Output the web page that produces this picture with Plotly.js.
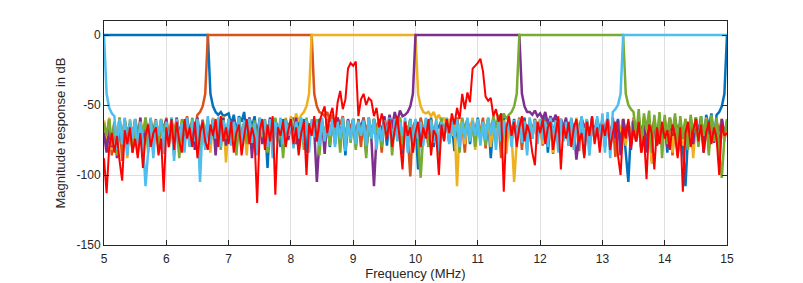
<!DOCTYPE html>
<html>
<head>
<meta charset="utf-8">
<script src="https://cdn.plot.ly/plotly-3.0.1.min.js"></script>
<style>html,body{margin:0;padding:0;background:#fff;}#chart{width:803px;height:283px;}</style>
</head>
<body>
<div id="chart"></div>
<script>
// Frequency grid: samples start at 5 MHz, one sample every 1/24 MHz (241 samples up to 15 MHz)
const freqStartMHz = 5;
const freqStepMHz = 1 / 24;

const xTicks = [5, 6, 7, 8, 9, 10, 11, 12, 13, 14, 15];
const yTicks = [-150, -100, -50, 0];

// Channel 1 (5 - 6.67 MHz), dB
const ch1 = [
0,0,0,0,0,0,0,0,0,0,0,0,
0,0,0,0,0,0,0,0,0,0,0,0,
0,0,0,0,0,0,0,0,0,0,0,0,
0,0,0,0,0,-42,-51,-55,-57,-55,-58,-57,
-56,-64,-57,-70,-58,-62,-55,-72,-59,-66,-58,-75,
-60,-68,-62,-95,-59,-74,-61,-66,-80,-60,-70,-63,
-66,-59,-78,-62,-68,-60,-84,-63,-70,-61,-76,-60,
-64,-72,-60,-80,-62,-67,-59,-74,-63,-86,-61,-69,
-60,-77,-62,-66,-59,-82,-64,-70,-60,-75,-63,-68,
-61,-79,-60,-67,-64,-73,-59,-85,-62,-70,-60,-76,
-63,-96,-60,-71,-62,-68,-59,-80,-64,-66,-61,-74,
-60,-69,-63,-83,-59,-72,-62,-67,-60,-78,-64,-70,
-59,-75,-62,-68,-60,-88,-63,-71,-61,-66,-59,-79,
-62,-70,-60,-74,-64,-67,-59,-81,-62,-69,-60,-73,
-63,-68,-59,-84,-61,-70,-62,-76,-60,-66,-64,-79,
-60,-72,-62,-67,-59,-86,-61,-70,-63,-75,-60,-68,
-62,-80,-59,-71,-63,-69,-60,-77,-62,-84,-105,-68,
-60,-74,-63,-82,-59,-70,-62,-90,-60,-76,-64,-71,
-59,-84,-62,-73,-60,-69,-63,-80,-108,-72,-61,-77,
-60,-70,-58,-78,-57,-66,-56,-74,-57,-55,-51,-42,
0];

// Channel 2 (6.67 - 8.33 MHz)
const ch2 = [
-62,-80,-60,-86,-63,-72,-59,-90,-61,-75,-64,-84,
-60,-70,-62,-88,-59,-74,-63,-68,-60,-82,-61,-72,
-59,-77,-62,-70,-60,-85,-63,-68,-58,-74,-61,-66,
-57,-55,-51,-42,0,0,0,0,0,0,0,0,
0,0,0,0,0,0,0,0,0,0,0,0,
0,0,0,0,0,0,0,0,0,0,0,0,
0,0,0,0,0,0,0,0,0,-42,-51,-55,
-56,-58,-55,-62,-57,-70,-59,-64,-58,-76,-61,-67,
-60,-72,-62,-80,-59,-68,-63,-74,-60,-66,-62,-84,
-59,-70,-61,-76,-63,-68,-60,-82,-62,-72,-101,-66,
-61,-74,-59,-69,-63,-80,-60,-71,-62,-86,-64,-70,
-60,-77,-62,-68,-59,-73,-63,-84,-61,-69,-60,-75,
-62,-70,-59,-81,-63,-67,-60,-74,-61,-88,-62,-71,
-60,-76,-63,-69,-59,-82,-61,-70,-62,-74,-60,-67,
-63,-79,-60,-70,-62,-85,-59,-72,-61,-68,-63,-76,
-60,-71,-62,-83,-59,-69,-61,-74,-63,-70,-60,-80,
-62,-68,-59,-75,-61,-87,-63,-70,-60,-73,-62,-78,
-59,-70,-62,-84,-60,-72,-63,-68,-61,-79,-60,-74,
-62,-69,-59,-86,-61,-71,-63,-76,-60,-70,-62,-82,
-59,-72,-61,-68,-63,-80,-60,-73,-62,-69,-60,-75,
-61];

// Channel 3 (8.33 - 10 MHz)
const ch3 = [
-61,-74,-59,-82,-63,-70,-60,-78,-62,-88,-60,-72,
-63,-80,-59,-71,-62,-76,-60,-84,-61,-69,-63,-78,
-60,-72,-62,-86,-59,-74,-61,-68,-63,-80,-60,-73,
-62,-79,-60,-70,-63,-84,-59,-72,-61,-77,-58,-91,
-60,-74,-62,-80,-59,-71,-63,-86,-60,-72,-62,-78,
-59,-70,-61,-83,-63,-74,-60,-69,-62,-80,-59,-72,
-58,-66,-56,-62,-57,-55,-51,-42,0,0,0,0,
0,0,0,0,0,0,0,0,0,0,0,0,
0,0,0,0,0,0,0,0,0,0,0,0,
0,0,0,0,0,0,0,0,0,0,0,0,
0,-42,-51,-55,-56,-55,-58,-55,-60,-57,-62,-59,
-64,-60,-72,-62,-108,-66,-60,-78,-62,-70,-59,-82,
-61,-72,-63,-68,-60,-80,-62,-74,-59,-70,-61,-85,
-63,-71,-105,-76,-60,-69,-62,-82,-59,-73,-61,-68,
-60,-78,-62,-70,-59,-84,-63,-72,-60,-75,-62,-69,
-61,-80,-59,-73,-63,-68,-60,-86,-62,-71,-60,-77,
-63,-70,-59,-82,-61,-74,-62,-69,-60,-79,-63,-72,
-60,-76,-62,-80,-59,-70,-61,-92,-63,-74,-60,-78,
-62,-71,-59,-84,-61,-73,-63,-79,-60,-70,-62,-88,
-60,-74,-62,-78,-59,-82,-61,-70,-63,-90,-60,-76,
-62];

// Channel 4 (10 - 11.67 MHz)
const ch4 = [
-70,-84,-66,-80,-62,-88,-64,-76,-60,-82,-63,-72,
-61,-78,-59,-86,-62,-70,-60,-80,-63,-74,-61,-68,
-60,-76,-62,-84,-59,-71,-63,-78,-60,-69,-62,-82,
-59,-73,-61,-80,-63,-70,-60,-86,-62,-74,-59,-79,
-62,-70,-60,-83,-61,-76,-63,-72,-59,-88,-62,-71,
-60,-78,-63,-70,-59,-84,-61,-73,-62,-80,-60,-75,
-63,-70,-59,-82,-61,-76,-60,-72,-62,-68,-105,-74,
-61,-85,-60,-72,-62,-78,-59,-70,-63,-82,-60,-73,
-62,-80,-60,-70,-61,-84,-59,-74,-108,-72,-60,-78,
-58,-70,-57,-66,-55,-62,-54,-58,-57,-55,-51,-42,
0,0,0,0,0,0,0,0,0,0,0,0,
0,0,0,0,0,0,0,0,0,0,0,0,
0,0,0,0,0,0,0,0,0,0,0,0,
0,0,0,0,0,-42,-51,-55,-55,-57,-54,-58,
-56,-60,-55,-64,-58,-62,-57,-70,-60,-66,-59,-74,
-61,-68,-89,-72,-60,-66,-62,-78,-59,-70,-61,-75,
-60,-72,-62,-80,-59,-74,-61,-86,-60,-70,-63,-82,
-61,-76,-59,-70,-62,-84,-60,-73,-63,-79,-60,-71,
-62,-80,-60,-72,-59,-86,-61,-74,-63,-70,-60,-78,
-59,-73,-61,-84,-60,-71,-62,-77,-63,-82,-60,-70,
-64];

// Channel 5 (11.67 - 13.33 MHz)
const ch5 = [
-63,-72,-60,-79,-62,-86,-59,-74,-61,-70,-63,-82,
-60,-76,-62,-70,-59,-84,-61,-72,-63,-78,-60,-69,
-62,-80,-59,-73,-61,-88,-60,-71,-63,-76,-59,-70,
-61,-84,-62,-72,-60,-78,-63,-70,-59,-82,-61,-74,
-60,-70,-63,-86,-59,-74,-62,-78,-60,-72,-61,-80,
-62,-73,-60,-84,-61,-70,-59,-76,-63,-88,-60,-72,
-61,-78,-62,-70,-60,-82,-59,-74,-63,-71,-60,-86,
-62,-72,-60,-79,-61,-70,-63,-84,-59,-73,-62,-77,
-60,-82,-61,-71,-62,-88,-59,-74,-60,-70,-63,-80,
-61,-73,-60,-86,-62,-72,-59,-78,-63,-70,-60,-84,
-62,-74,-102,-70,-60,-80,-61,-73,-63,-86,-59,-71,
-61,-77,-60,-72,-62,-84,-59,-70,-61,-76,-63,-80,
-60,-72,-62,-79,-59,-70,-58,-66,-57,-62,-56,-60,
-57,-55,-51,-42,0,0,0,0,0,0,0,0,
0,0,0,0,0,0,0,0,0,0,0,0,
0,0,0,0,0,0,0,0,0,0,0,0,
0,0,0,0,0,0,0,0,0,-42,-50,-53,
-55,-72,-53,-80,-56,-68,-54,-84,-57,-74,-55,-88,
-57,-78,-59,-70,-56,-86,-58,-74,-60,-82,-57,-70,
-59,-80,-58,-72,-60,-86,-57,-76,-59,-84,-102,-74,
-60];

// Channel 6 (13.33 - 15 MHz, wraps to below 5 MHz)
const ch6 = [
0,-42,-52,-56,-58,-82,-60,-78,-59,-86,-61,-74,
-60,-84,-62,-76,-108,-80,-59,-88,-61,-72,-60,-85,
-62,-78,-59,-90,-60,-74,-63,-84,-59,-80,-61,-76,
-60,-105,-62,-82,-58,-78,-60,-74,-59,-80,-61,-72,
-60,-79,-62,-74,-59,-82,-61,-70,-60,-77,-63,-86,
-59,-72,-61,-80,-60,-88,-62,-75,-59,-78,-61,-72,
-60,-81,-62,-74,-59,-77,-61,-84,-60,-73,-62,-79,
-59,-76,-61,-72,-60,-80,-62,-74,-59,-83,-61,-75,
-60,-78,-62,-72,-61,-79,-59,-74,-60,-82,-62,-76,
-61,-73,-59,-80,-60,-76,-62,-72,-59,-84,-61,-78,
-60,-74,-62,-79,-59,-72,-61,-77,-60,-83,-62,-75,
-59,-78,-61,-73,-60,-80,-62,-74,-59,-76,-61,-72,
-60,-79,-62,-75,-59,-72,-61,-82,-60,-76,-62,-74,
-59,-80,-61,-73,-60,-77,-62,-86,-59,-74,-61,-78,
-60,-75,-62,-80,-59,-73,-61,-84,-60,-76,-62,-79,
-59,-82,-61,-74,-58,-78,-60,-86,-59,-75,-58,-80,
-56,-84,-55,-88,-55,-53,-50,-42,0,0,0,0,
0,0,0,0,0,0,0,0,0,0,0,0,
0,0,0,0,0,0,0,0,0,0,0,0,
0,0,0,0,0,0,0,0,0,0,0,0,
0];

// Input signal spectrum (red)
const signalDB = [
-88,-113,-80,-70,-84,-72,-90,-104,-68,-78,-66,-84,
-74,-88,-70,-95,-72,-64,-80,-70,-66,-86,-74,-112,
-66,-80,-60,-82,-62,-76,-84,-60,-74,-66,-80,-62,
-88,-70,-62,-76,-82,-64,-72,-60,-80,-58,-76,-66,
-78,-62,-84,-70,-64,-86,-72,-60,-78,-66,-74,-120,
-68,-60,-82,-64,-76,-58,-114,-66,-72,-62,-80,-68,
-60,-78,-66,-86,-70,-62,-100,-64,-72,-58,-76,-62,
-56,-51,-70,-58,-52,-66,-48,-40,-53,-46,-24,-20,
-22,-19,-58,-46,-42,-50,-45,-47,-58,-52,-66,-56,
-64,-74,-60,-80,-68,-58,-76,-96,-62,-72,-66,-84,
-70,-62,-80,-66,-74,-60,-86,-68,-72,-100,-64,-76,
-60,-70,-56,-64,-52,-60,-42,-53,-41,-48,-24,-22,
-20,-17,-26,-44,-47,-45,-58,-53,-62,-56,-112,-66,
-58,-72,-62,-80,-66,-58,-76,-64,-70,-84,-93,-62,
-70,-60,-78,-66,-62,-82,-68,-58,-96,-64,-74,-62,
-80,-66,-60,-76,-70,-88,-62,-72,-58,-78,-66,-84,
-64,-72,-60,-82,-70,-62,-86,-100,-66,-74,-60,-80,
-68,-76,-62,-84,-72,-103,-64,-70,-96,-66,-78,-62,
-74,-68,-82,-64,-72,-88,-66,-112,-70,-62,-80,-68,
-60,-76,-64,-84,-70,-62,-78,-66,-74,-100,-64,-72,
-70];

const seriesList = [ch1, ch2, ch3, ch4, ch5, ch6, signalDB];
const seriesColors = ['#0072BD', '#D95319', '#EDB120', '#7E2F8E', '#77AC30', '#4DBEEE', '#FF0000'];
const seriesWidths = [2.5, 2.5, 2.5, 2.5, 2.5, 2.5, 2];

const traces = seriesList.map((ys, k) => ({
  type: 'scatter',
  mode: 'lines',
  x0: freqStartMHz,
  dx: freqStepMHz,
  y: ys,
  line: { color: seriesColors[k], width: seriesWidths[k] },
  hoverinfo: 'skip'
}));

const axisFont = { family: 'Liberation Sans, Arial, sans-serif', size: 12, color: '#262626' };
const titleFont = { family: 'Liberation Sans, Arial, sans-serif', size: 13, color: '#262626' };

const layout = {
  width: 803,
  height: 283,
  margin: { l: 104, r: 76, t: 21, b: 38, pad: 0 },
  paper_bgcolor: '#ffffff',
  plot_bgcolor: '#ffffff',
  showlegend: false,
  xaxis: {
    range: [5, 15],
    tickvals: xTicks,
    ticktext: xTicks.map(String),
    ticks: 'inside',
    ticklen: 5,
    tickwidth: 1,
    tickcolor: '#262626',
    showline: true,
    linecolor: '#262626',
    linewidth: 1,
    mirror: 'ticks',
    showgrid: true,
    gridcolor: '#dfdfdf',
    gridwidth: 1,
    zeroline: false,
    tickfont: axisFont,
    ticklabelstandoff: 3,
    title: { text: 'Frequency (MHz)', font: titleFont, standoff: 2 }
  },
  yaxis: {
    range: [-150, 10],
    tickvals: yTicks,
    ticktext: yTicks.map(String),
    ticks: 'inside',
    ticklen: 5,
    tickwidth: 1,
    tickcolor: '#262626',
    showline: true,
    linecolor: '#262626',
    linewidth: 1,
    mirror: 'ticks',
    showgrid: true,
    gridcolor: '#dfdfdf',
    gridwidth: 1,
    zeroline: false,
    tickfont: axisFont,
    title: { text: 'Magnitude response in dB', font: titleFont, standoff: 8 }
  }
};

Plotly.newPlot('chart', traces, layout, { staticPlot: true, displayModeBar: false });
</script>
</body>
</html>
